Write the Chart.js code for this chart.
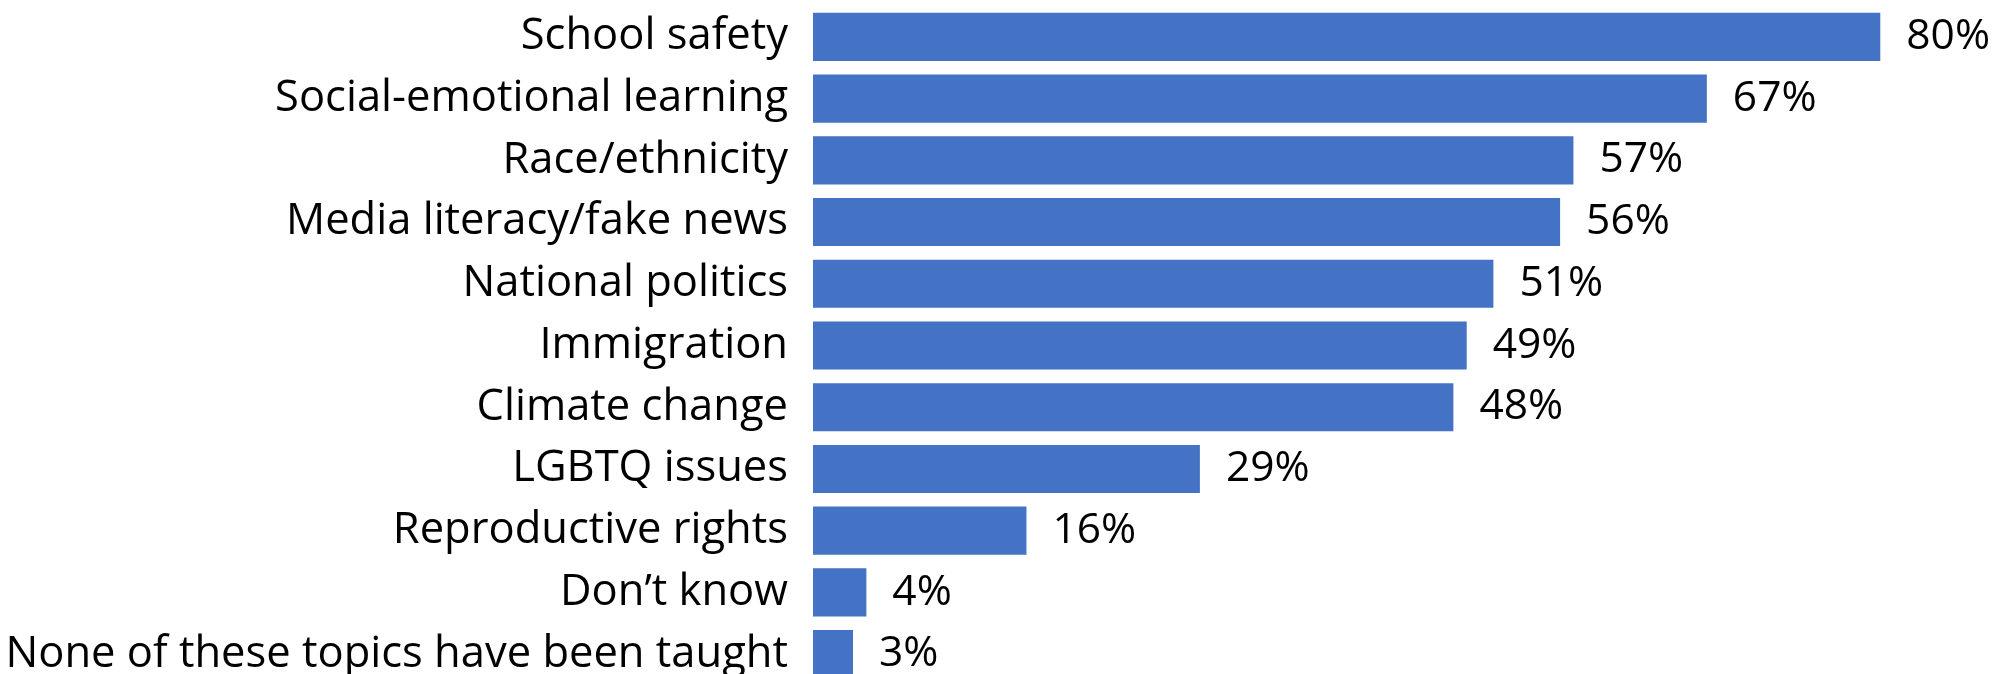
<!DOCTYPE html>
<html>
<head>
<meta charset="utf-8">
<script src="https://cdn.jsdelivr.net/npm/chart.js@4/dist/chart.umd.min.js"></script>
<style>
  html, body { margin: 0; padding: 0; background: #fff; overflow: hidden; }
  #wrap { width: 2005px; height: 691px; }
</style>
</head>
<body>
<div id="wrap"><canvas id="topics" width="2005" height="691"></canvas></div>
<script>
const BLUE = 'rgb(68, 114, 196)';
const FONT = "'Open Sans', sans-serif";
const LABEL_SIZE = 43.5;
const VALUE_SIZE = 42.5;

const topics = [
  'School safety',
  'Social-emotional learning',
  'Race/ethnicity',
  'Media literacy/fake news',
  'National politics',
  'Immigration',
  'Climate change',
  'LGBTQ issues',
  'Reproductive rights',
  'Don\u2019t know',
  'None of these topics have been taught'
];
const shares = [80, 67, 57, 56, 51, 49, 48, 29, 16, 4, 3];

// percent labels just past the end of each bar
const valueLabels = {
  id: 'valueLabels',
  afterDatasetsDraw(chart) {
    const ctx = chart.ctx;
    const meta = chart.getDatasetMeta(0);
    ctx.save();
    ctx.font = VALUE_SIZE + 'px ' + FONT;
    ctx.fillStyle = '#000';
    ctx.textAlign = 'left';
    ctx.textBaseline = 'middle';
    meta.data.forEach((bar, i) => {
      ctx.fillText(shares[i] + '%', bar.x + 26, bar.y);
    });
    ctx.restore();
  }
};

new Chart(document.getElementById('topics'), {
  type: 'bar',
  data: {
    labels: topics,
    datasets: [{
      data: shares,
      backgroundColor: BLUE,
      borderWidth: 0,
      barPercentage: 0.78,
      categoryPercentage: 1
    }]
  },
  options: {
    indexAxis: 'y',
    responsive: false,
    animation: false,
    layout: { padding: { top: 6, bottom: 6, right: 58, left: 0 } },
    plugins: {
      legend: { display: false },
      tooltip: { enabled: false }
    },
    scales: {
      x: {
        display: false,
        min: 0,
        max: 85
      },
      y: {
        grid: { display: false, drawTicks: false },
        border: { display: false },
        ticks: {
          padding: 25,
          color: '#000',
          font: { family: FONT, size: LABEL_SIZE }
        },
        afterFit(scale) {
          scale.width = 813;
          // keep the label heights from squeezing the bar area
          scale.paddingTop = 0;
          scale.paddingBottom = 0;
        }
      }
    }
  },
  plugins: [valueLabels]
});
</script>
</body>
</html>
